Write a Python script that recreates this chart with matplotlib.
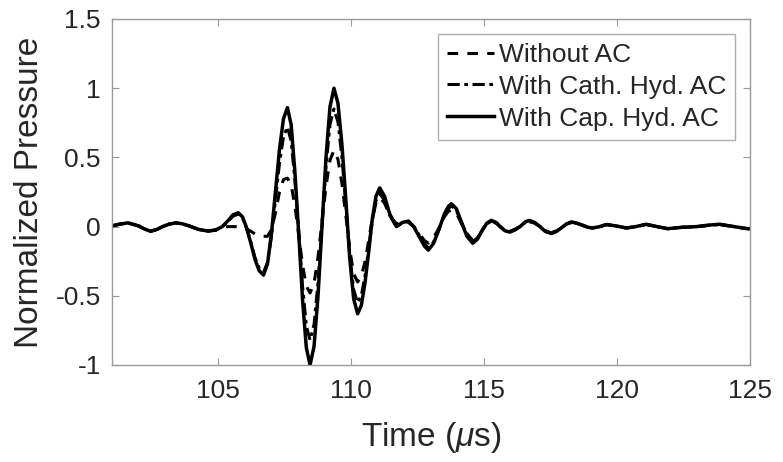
import numpy as np
import matplotlib
matplotlib.use("Agg")
import matplotlib.pyplot as plt

plt.rcParams["font.family"] = ["Liberation Sans", "DejaVu Sans"]
plt.rcParams["mathtext.fontset"] = "custom"
plt.rcParams["mathtext.rm"] = "Liberation Sans"
plt.rcParams["mathtext.it"] = "Liberation Sans:italic"

time_us = [
    101.0, 101.3, 101.6, 102.0, 102.2, 102.45, 102.7, 102.9, 103.15, 103.4,
    103.65, 103.9, 104.25, 104.6, 104.9, 105.15, 105.35, 105.55, 105.75,
    105.91, 106.07, 106.23, 106.38, 106.54, 106.7,
    106.85, 107.0, 107.15, 107.3, 107.45, 107.6,
    107.74, 107.88, 108.03, 108.17, 108.31, 108.45,
    108.6, 108.75, 108.9, 109.05, 109.2, 109.35,
    109.5, 109.65, 109.8, 109.94, 110.09, 110.24,
    110.38, 110.52, 110.66, 110.79, 110.93, 111.07,
    111.25, 111.45, 111.7, 111.92, 112.15,
    112.35, 112.55, 112.75, 112.9, 113.1,
    113.3, 113.5, 113.65, 113.77, 113.95,
    114.15, 114.35, 114.57, 114.75, 114.95,
    115.1, 115.27, 115.45, 115.6, 115.78,
    115.96, 116.15, 116.35, 116.55, 116.71,
    116.9, 117.1, 117.3, 117.53, 117.72,
    117.9, 118.1, 118.28, 118.5, 118.7,
    118.9, 119.08, 119.35, 119.6, 119.95,
    120.35, 120.7, 121.1, 121.5, 121.9,
    122.45, 123.0, 123.4, 123.86, 124.4,
    124.9, 125.0,
]

without_ac = [
    0.005, 0.018, 0.027, 0.005, -0.015, -0.034, -0.02, 0.0, 0.018, 0.027,
    0.02, 0.005, -0.02, -0.032, -0.025, -0.01, 0.0, 0.0, 0.0,
    -0.005, -0.018, -0.035, -0.053, -0.065, -0.07,
    -0.07, -0.02, 0.1, 0.25, 0.34, 0.35,
    0.3, 0.15, -0.07, -0.28, -0.43, -0.48,
    -0.41, -0.22, 0.035, 0.29, 0.48, 0.55,
    0.486, 0.31, 0.075, -0.16, -0.34, -0.4,
    -0.36, -0.25, -0.095, 0.055, 0.17, 0.21,
    0.17, 0.08, 0.02, 0.03, 0.03,
    0.0, -0.05, -0.1, -0.12, -0.08,
    -0.01, 0.07, 0.11, 0.12, 0.1,
    0.02, -0.05, -0.1, -0.08, -0.02,
    0.02, 0.035, 0.025, 0.0, -0.025,
    -0.035, -0.02, 0.0, 0.025, 0.035,
    0.025, 0.0, -0.03, -0.045, -0.03,
    -0.01, 0.018, 0.03, 0.022, 0.01,
    -0.005, -0.01, 0.0, 0.015, 0.005,
    -0.01, 0.0, 0.015, 0.0, -0.015,
    -0.005, 0.0, 0.008, 0.015, 0.0,
    -0.015, -0.015,
]

cath_hyd_ac = [
    0.005, 0.018, 0.027, 0.005, -0.015, -0.034, -0.02, 0.0, 0.018, 0.027,
    0.02, 0.005, -0.02, -0.032, -0.025, 0.0, 0.035, 0.075, 0.09,
    0.062, -0.015, -0.12, -0.225, -0.302, -0.33,
    -0.26, -0.068, 0.195, 0.458, 0.65, 0.72,
    0.617, 0.335, -0.05, -0.435, -0.717, -0.82,
    -0.708, -0.403, 0.015, 0.433, 0.738, 0.85,
    0.756, 0.5, 0.15, -0.2, -0.456, -0.55,
    -0.497, -0.353, -0.155, 0.043, 0.187, 0.24,
    0.19, 0.08, 0.0, 0.025, 0.035,
    0.0, -0.06, -0.125, -0.155, -0.11,
    -0.02, 0.08, 0.13, 0.15, 0.12,
    0.03, -0.06, -0.11, -0.08, -0.02,
    0.02, 0.04, 0.027, 0.0, -0.027,
    -0.035, -0.022, 0.0, 0.03, 0.04,
    0.027, 0.0, -0.03, -0.045, -0.032,
    -0.01, 0.018, 0.03, 0.022, 0.01,
    -0.005, -0.01, 0.0, 0.015, 0.005,
    -0.01, 0.0, 0.015, 0.0, -0.015,
    -0.005, 0.0, 0.008, 0.015, 0.0,
    -0.015, -0.015,
]

cap_hyd_ac = [
    0.005, 0.018, 0.027, 0.005, -0.015, -0.034, -0.02, 0.0, 0.018, 0.027,
    0.02, 0.005, -0.02, -0.032, -0.025, 0.0, 0.04, 0.085, 0.10,
    0.070, -0.013, -0.125, -0.238, -0.32, -0.35,
    -0.269, -0.048, 0.255, 0.558, 0.779, 0.86,
    0.735, 0.395, -0.07, -0.535, -0.875, -1.0,
    -0.866, -0.5, 0.0, 0.5, 0.866, 1.0,
    0.891, 0.593, 0.185, -0.223, -0.521, -0.63,
    -0.569, -0.403, -0.175, 0.053, 0.219, 0.28,
    0.22, 0.09, 0.0, 0.03, 0.04,
    0.0, -0.07, -0.14, -0.17, -0.12,
    -0.02, 0.09, 0.145, 0.165, 0.13,
    0.03, -0.07, -0.12, -0.09, -0.02,
    0.025, 0.045, 0.03, 0.0, -0.03,
    -0.04, -0.025, 0.0, 0.035, 0.045,
    0.03, 0.0, -0.035, -0.05, -0.035,
    -0.01, 0.02, 0.034, 0.025, 0.01,
    -0.005, -0.01, 0.0, 0.015, 0.005,
    -0.01, 0.0, 0.017, 0.0, -0.015,
    -0.005, 0.0, 0.01, 0.017, 0.0,
    -0.015, -0.015,
]

x_ticks = [105, 110, 115, 120, 125]
y_ticks = [-1, -0.5, 0, 0.5, 1, 1.5]
y_ticklabels = ["-1", "-0.5", "0", "0.5", "1", "1.5"]

fig = plt.figure(figsize=(7.83, 4.62), dpi=100)
ax = fig.add_axes([112 / 783, 97 / 462, 638 / 783, 346 / 462])

line_kw = dict(color="black", solid_joinstyle="round", dash_joinstyle="round")
ax.plot(time_us, without_ac, lw=2.2, ls=(0, (3.5, 3.0)), label="Without AC", **line_kw)
ax.plot(time_us, cath_hyd_ac, lw=2.2, ls=(0, (4.0, 1.5, 1.2, 1.5)), label="With Cath. Hyd. AC", **line_kw)
ax.plot(time_us, cap_hyd_ac, lw=2.5, ls="-", label="With Cap. Hyd. AC", **line_kw)

ax.set_xlim(101, 125)
ax.set_ylim(-1, 1.5)
ax.set_xticks(x_ticks)
ax.set_yticks(y_ticks)
ax.set_xticklabels([str(t) for t in x_ticks])
ax.set_yticklabels(y_ticklabels)

axis_grey = "#9a9a9a"
text_col = "#262626"
for s in ax.spines.values():
    s.set_color(axis_grey)
    s.set_linewidth(1.0)
ax.tick_params(direction="in", length=5, width=0.8, color=axis_grey,
               top=True, right=True, labelsize=19, labelcolor=text_col)
ax.tick_params(axis="x", pad=10)
ax.tick_params(axis="y", pad=8)

ax.set_xlabel(r"Time ($\mu$s)", fontsize=24, color=text_col, labelpad=12)
ax.set_ylabel("Normalized Pressure", fontsize=24, color=text_col, labelpad=8)

leg = ax.legend(loc="upper right", fontsize=19, frameon=True, fancybox=False,
                handlelength=1.75, handletextpad=0.2, labelspacing=0.3,
                borderpad=0.35, borderaxespad=0.55, edgecolor=axis_grey)
leg.get_frame().set_linewidth(1.0)
for t in leg.get_texts():
    t.set_color(text_col)

fig.savefig("out.png", dpi=100)
